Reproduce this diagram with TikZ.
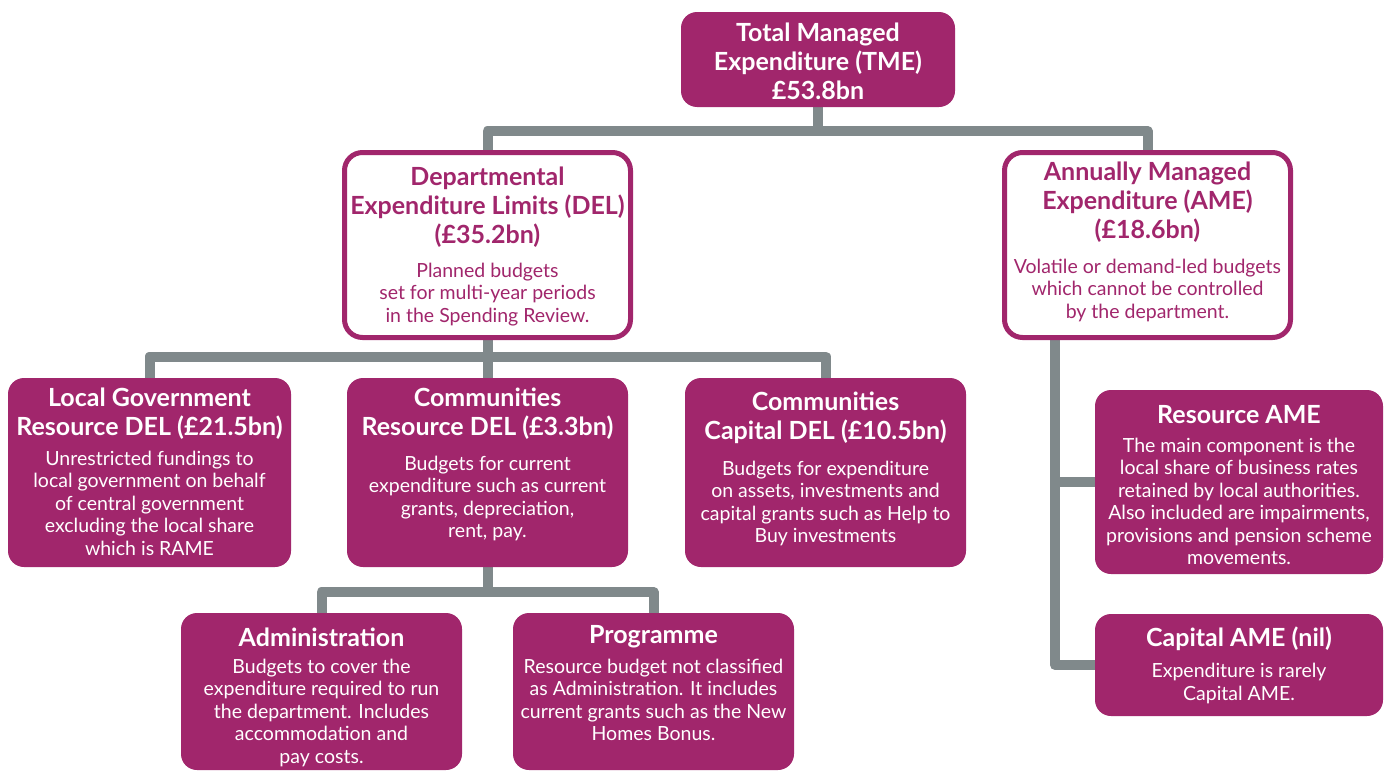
\documentclass[tikz,border=0pt]{standalone}
\usepackage{fontspec}
\setmainfont{Lato}
\usetikzlibrary{backgrounds}
\definecolor{mag}{HTML}{A1266C}
\definecolor{conngray}{HTML}{80898B}
\newcommand\ttl{\fontsize{25}{29}\selectfont\bfseries}
\newcommand\bdy{\fontsize{19.5}{22.5}\selectfont}
% width, height, top pad, title, gap, body
\newcommand\bx[6]{\parbox[c][#2pt][t]{#1pt}{\centering\vspace*{#3pt}{\ttl\rule{0pt}{19pt}#4\par}\vspace{#5pt}{\bdy #6\par}}}
\tikzset{
  fbox/.style={fill=mag, text=white, rounded corners=16pt, inner sep=0pt, outer sep=0pt},
  obox/.style={draw=mag, line width=5pt, fill=white, text=mag, rounded corners=18pt, inner sep=0pt, outer sep=0pt},
  conn/.style={draw=conngray, line width=10pt, line join=round}
}
\begin{document}
\begin{tikzpicture}[x=1pt,y=-1pt]
\useasboundingbox (0,0) rectangle (1390,771);
\node[fbox] (tme) at (818,59.5) {\bx{274}{95}{10}{Total Managed\\Expenditure (TME)\\£53.8bn}{0}{}};
\node[obox] (del) at (487.5,245) {\bx{286}{185}{13.5}{Departmental\\Expenditure Limits (DEL)\\(£35.2bn)}{11.5}{Planned budgets\\set for multi-year periods\\in the Spending Review.}};
\node[obox] (ame) at (1147.5,245) {\bx{286}{185}{8.5}{Annually Managed\\Expenditure (AME)\\(£18.6bn)}{12.5}{Volatile or demand-led budgets\\which cannot be controlled\\by the department.}};
\node[fbox] (lg) at (149.5,472.5) {\bx{283}{189}{9}{Local Government\\Resource DEL (£21.5bn)}{7.5}{Unrestricted fundings to\\local government on behalf\\of central government\\excluding the local share\\which is RAME}};
\node[fbox] (cr) at (487.5,472.5) {\bx{281}{189}{9}{Communities\\Resource DEL (£3.3bn)}{12.5}{Budgets for current\\expenditure such as current\\grants, depreciation,\\rent, pay.}};
\node[fbox] (cc) at (825.5,472.5) {\bx{281}{189}{13}{Communities\\Capital DEL (£10.5bn)}{13.5}{Budgets for expenditure\\on assets, investments and\\capital grants such as Help to\\Buy investments}};
\node[fbox] (rame) at (1239,482) {\bx{288}{184}{14}{Resource AME}{6.5}{The main component is the\\local share of business rates\\retained by local authorities.\\Also included are impairments,\\provisions and pension scheme\\movements.}};
\node[fbox] (came) at (1239,665) {\bx{288}{102}{13}{Capital AME (nil)}{8.5}{Expenditure is rarely\\Capital AME.}};
\node[fbox] (adm) at (321.5,691.5) {\bx{281}{157}{14}{Administration}{4.5}{Budgets to cover the\\expenditure required to run\\the department. Includes\\accommodation and\\pay costs.}};
\node[fbox] (prog) at (653.5,691.5) {\bx{281}{157}{11}{Programme}{7.5}{Resource budget not classified\\as Administration. It includes\\current grants such as the New\\Homes Bonus.}};
\coordinate (amex) at (1055,340);
\begin{scope}[on background layer]
\draw[conn] (tme.south) -- ++(0,24) -| (del.north);
\draw[conn] (tme.south) -- ++(0,24) -| (ame.north);
\draw[conn] (del.south) -- ++(0,19) -| (lg.north);
\draw[conn] (del.south) -- (cr.north);
\draw[conn] (del.south) -- ++(0,19) -| (cc.north);
\draw[conn] (cr.south) -- ++(0,25) -| (adm.north);
\draw[conn] (cr.south) -- ++(0,25) -| (prog.north);
\draw[conn] (amex) |- (rame.west);
\draw[conn] (amex) |- (came.west);
\end{scope}
\end{tikzpicture}
\end{document}
